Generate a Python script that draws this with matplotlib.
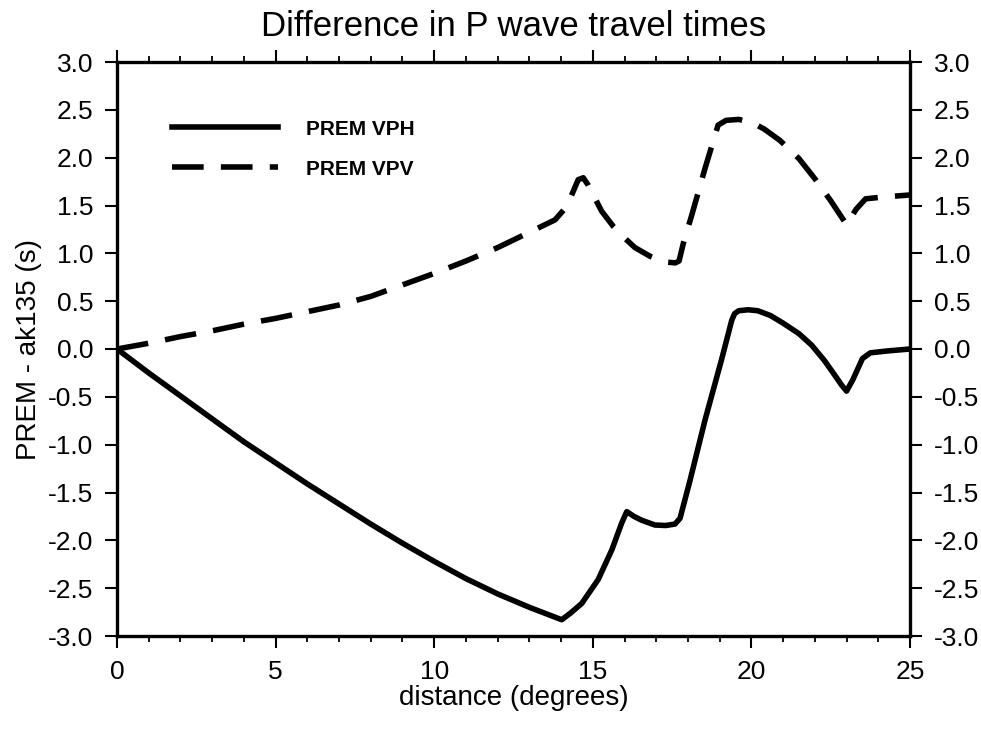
import matplotlib
matplotlib.use('Agg')
import matplotlib.pyplot as plt
from matplotlib.ticker import MultipleLocator

plt.rcParams['font.family'] = ['Liberation Sans', 'DejaVu Sans']

# distancia (grados) y diferencia PREM - ak135 (s)
dist_vph = [0, 1, 2, 3, 4, 5, 6, 7, 8, 9, 10, 11, 12, 13, 14.02,
            14.3, 14.65, 15.17, 15.6, 15.91, 16.07, 16.3, 16.54, 16.96, 17.3, 17.59,
            17.75, 18.06, 18.54, 19.06, 19.38, 19.47, 19.6, 19.9, 20.2, 20.6, 21.0,
            21.5, 21.9, 22.3, 22.6, 22.85, 23.0, 23.2, 23.5, 23.75, 24.3, 25.0]
dt_vph = [0, -0.25, -0.49, -0.73, -0.97, -1.19, -1.41, -1.62, -1.83, -2.03,
          -2.22, -2.40, -2.56, -2.70, -2.83,
          -2.76, -2.66, -2.41, -2.10, -1.82, -1.70, -1.75, -1.79, -1.84, -1.845, -1.83,
          -1.77, -1.38, -0.74, -0.11, 0.30, 0.37, 0.40, 0.41, 0.40, 0.35, 0.27,
          0.16, 0.04, -0.12, -0.26, -0.38, -0.44, -0.32, -0.10, -0.04, -0.02, 0.0]

dist_vpv = [0, 1, 2, 3, 4, 5, 6, 7, 8, 9, 10, 11, 12, 13, 13.81,
            14.18, 14.54, 14.7, 14.86, 15.28, 15.65, 16.0, 16.33, 16.8, 17.28, 17.6, 17.72,
            17.85, 18.12, 18.54, 18.95, 19.2, 19.6, 20.0, 20.4, 20.9, 21.5,
            22.0, 22.5, 22.8, 23.0, 23.3, 23.6, 24.2, 25.0]
dt_vpv = [0, 0.06, 0.13, 0.19, 0.26, 0.32, 0.39, 0.46, 0.55, 0.67,
          0.79, 0.92, 1.06, 1.22, 1.35,
          1.49, 1.77, 1.79, 1.71, 1.44, 1.28, 1.16, 1.06, 0.97, 0.91, 0.90, 0.92,
          1.10, 1.40, 1.89, 2.34, 2.39, 2.40, 2.37, 2.30, 2.18, 1.99,
          1.78, 1.55, 1.40, 1.30, 1.46, 1.57, 1.59, 1.61]

fig = plt.figure(figsize=(9.81, 7.29), dpi=100)
ax = fig.add_axes([117/981, 93/729, 793/981, 574/729])

ax.plot(dist_vph, dt_vph, color='black', lw=4.0, solid_joinstyle='round', label='PREM VPH')
ax.plot(dist_vpv, dt_vpv, color='black', lw=4.0, linestyle=(0, (5.7, 3.1)),
        dash_capstyle='butt', dash_joinstyle='round', label='PREM VPV')

ax.set_xlim(0, 25)
ax.set_ylim(-3, 3)
ax.xaxis.set_major_locator(MultipleLocator(5))
ax.xaxis.set_minor_locator(MultipleLocator(1))
ax.yaxis.set_major_locator(MultipleLocator(0.5))
ax.yaxis.set_major_formatter(plt.FuncFormatter(lambda v, p: '%.1f' % v))

for s in ax.spines.values():
    s.set_linewidth(2.4)
ax.tick_params(which='major', direction='out', length=8.6, width=1.5, labelsize=19,
               top=True, right=True, labelright=True, pad=8.5)
ax.tick_params(which='minor', direction='out', length=4.3, width=1.3, top=True)

ax.set_title('Difference in P wave travel times', fontsize=25, pad=19)
ax.set_xlabel('distance (degrees)', fontsize=20, labelpad=1)
ax.set_ylabel('PREM - ak135 (s)', fontsize=20, labelpad=4)

ax.legend(loc='upper left', bbox_to_anchor=(0.046, 0.932), frameon=False,
          handlelength=5.1, handletextpad=1.3, labelspacing=1.0,
          prop={'weight': 'bold', 'size': 15})

fig.savefig('out.png', dpi=100)
